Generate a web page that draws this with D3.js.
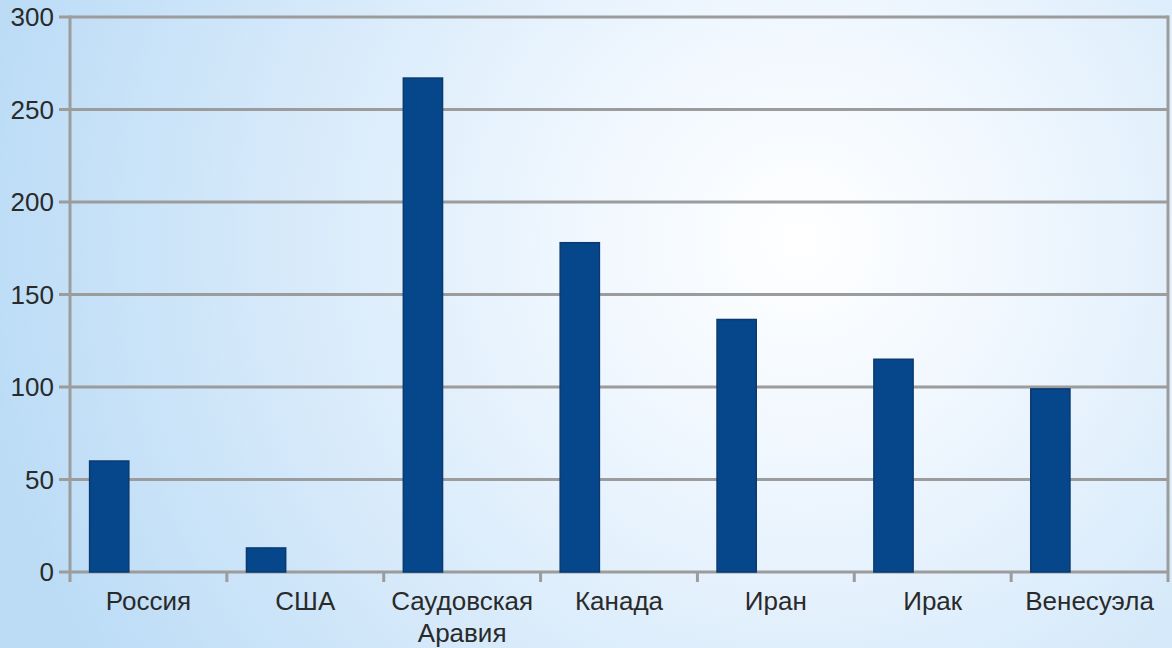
<!DOCTYPE html>
<html>
<head>
<meta charset="utf-8">
<script src="https://cdn.jsdelivr.net/npm/d3@7"></script>
<style>
  html, body { margin: 0; padding: 0; overflow: hidden; }
  svg { display: block; }
</style>
</head>
<body>
<div id="chartArea"></div>
<script>
var countries = ["Россия", "США", "Саудовская\nАравия", "Канада", "Иран", "Ирак", "Венесуэла"];
var reserves = [60, 13, 267, 178, 136.5, 115, 99];
var yTicks = [0, 50, 100, 150, 200, 250, 300];

var width = 1172,
    height = 648;

var plotL = 70, plotR = 1168, plotT = 17, plotB = 572;

var svg = d3.select("#chartArea").append("svg")
    .attr("width", width)
    .attr("height", height)
    .style("font-family", "'Liberation Sans', Arial, sans-serif");

// background - soft radial glow
var defs = svg.append("defs");
var grad = defs.append("radialGradient")
    .attr("id", "bg")
    .attr("gradientUnits", "userSpaceOnUse")
    .attr("cx", 800).attr("cy", 240).attr("r", 820);
grad.append("stop").attr("offset", "0%").attr("stop-color", "#ffffff");
grad.append("stop").attr("offset", "30%").attr("stop-color", "#eef6fe");
grad.append("stop").attr("offset", "100%").attr("stop-color", "#bcdcf6");

svg.append("rect")
    .attr("width", width)
    .attr("height", height)
    .attr("fill", "url(#bg)");

var x = d3.scaleBand()
    .domain(countries)
    .range([plotL, plotR]);

var y = d3.scaleLinear()
    .domain([0, 300])
    .range([plotB, plotT]);

var gridColor = "#9c9c9c";

// horizontal grid lines
svg.append("g").selectAll("line")
    .data(yTicks)
    .enter().append("line")
    .attr("x1", plotL - 11)
    .attr("x2", plotR)
    .attr("y1", function(d) { return y(d); })
    .attr("y2", function(d) { return y(d); })
    .attr("stroke", gridColor)
    .attr("stroke-width", 3);

// right border
svg.append("line")
    .attr("x1", plotR).attr("x2", plotR)
    .attr("y1", plotT - 1.5).attr("y2", plotB)
    .attr("stroke", gridColor)
    .attr("stroke-width", 3);

// bars (first of two series slots)
var bw = x.bandwidth();
svg.append("g").selectAll("rect")
    .data(reserves)
    .enter().append("rect")
    .attr("x", function(d, i) { return x(countries[i]) + bw * 0.125; })
    .attr("width", bw * 0.25)
    .attr("y", function(d) { return y(d); })
    .attr("height", function(d) { return y(0) - y(d); })
    .attr("fill", "#06468b")
    .attr("stroke", "#0a3a70")
    .attr("stroke-width", 1.5);

// y axis line
svg.append("line")
    .attr("x1", plotL).attr("x2", plotL)
    .attr("y1", plotT - 1.5).attr("y2", plotB + 10)
    .attr("stroke", gridColor)
    .attr("stroke-width", 3);

// x ticks at band edges
var edges = countries.map(function(c) { return x(c); }).concat([plotR]);
svg.append("g").selectAll("line")
    .data(edges.slice(1))
    .enter().append("line")
    .attr("x1", function(d) { return d; })
    .attr("x2", function(d) { return d; })
    .attr("y1", plotB)
    .attr("y2", plotB + 10)
    .attr("stroke", gridColor)
    .attr("stroke-width", 3);

// y tick labels
svg.append("g").selectAll("text")
    .data(yTicks)
    .enter().append("text")
    .attr("x", 54)
    .attr("y", function(d) { return y(d) + 9; })
    .attr("text-anchor", "end")
    .attr("font-size", 26)
    .attr("fill", "#2a2a2a")
    .text(function(d) { return d; });

// x category labels
var xl = svg.append("g").selectAll("text")
    .data(countries)
    .enter().append("text")
    .attr("x", function(d) { return x(d) + bw / 2; })
    .attr("y", 610)
    .attr("text-anchor", "middle")
    .attr("font-size", 26)
    .attr("fill", "#2a2a2a");

xl.each(function(d) {
    var lines = d.split("\n");
    var t = d3.select(this);
    lines.forEach(function(s, k) {
        t.append("tspan")
            .attr("x", x(d) + bw / 2)
            .attr("dy", k === 0 ? 0 : 32)
            .text(s);
    });
});
</script>
</body>
</html>
